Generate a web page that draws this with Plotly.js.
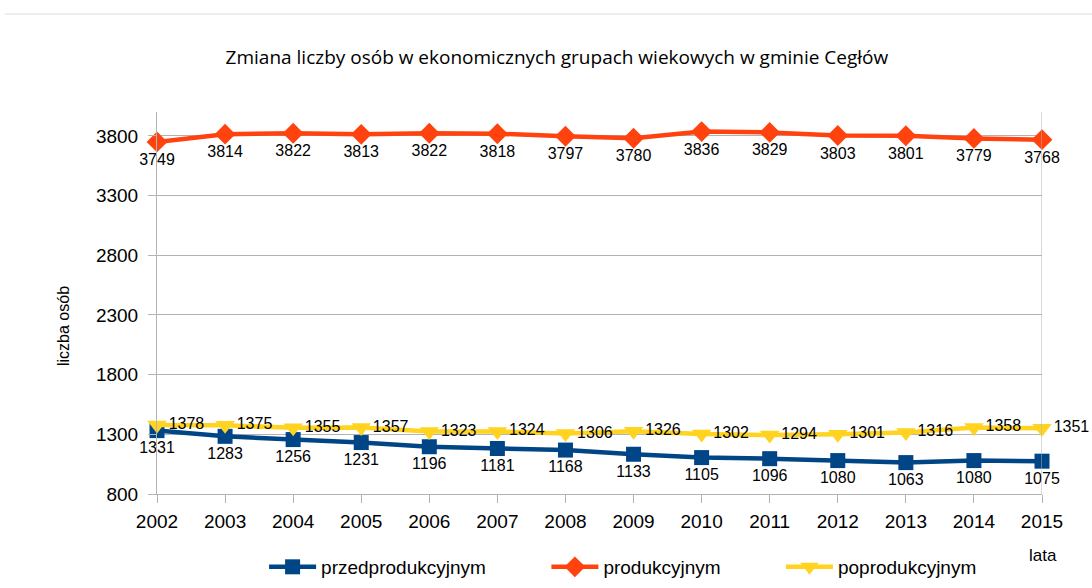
<!DOCTYPE html>
<html><head><meta charset="utf-8">
<script src="https://cdn.plot.ly/plotly-3.0.1.min.js"></script>
<style>html,body{margin:0;padding:0;background:#fff}#c{width:1092px;height:588px}</style>
</head><body><div id="c"></div>
<script>
const years = ['2002','2003','2004','2005','2006','2007','2008','2009','2010','2011','2012','2013','2014','2015'];
const przed = [1331,1283,1256,1231,1196,1181,1168,1133,1105,1096,1080,1063,1080,1075];
const prod = [3749,3814,3822,3813,3822,3818,3797,3780,3836,3829,3803,3801,3779,3768];
const popr = [1378,1375,1355,1357,1323,1324,1306,1326,1302,1294,1301,1316,1358,1351];
const names = ['przedprodukcyjnym','produkcyjnym','poprodukcyjnym'];
const yTicks = [800,1300,1800,2300,2800,3300,3800];

const F = 'Liberation Sans, Arial, sans-serif';
const tf = {family:F, size:16, color:'#000'};
const traces = [
  {x:years, y:przed, name:names[0], legend:'legend', mode:'lines+markers+text', text:przed.map(String), textposition:'bottom center', textfont:tf,
   line:{color:'#004586', width:4.5}, marker:{symbol:'square', size:15, color:'#004586'}},
  {x:years, y:prod, name:names[1], legend:'legend2', mode:'lines+markers+text', text:prod.map(String), textposition:'bottom center', textfont:tf,
   line:{color:'#ff420e', width:4.5}, marker:{symbol:'diamond', size:16, color:'#ff420e'}},
  {x:years, y:popr, name:names[2], legend:'legend3', mode:'lines+markers+text', text:popr.map(String), textposition:'middle right', textfont:tf,
   line:{color:'#ffd320', width:4.5}, marker:{symbol:'triangle-down', size:17, color:'#ffd320'}}
];
traces.forEach(t=>t.cliponaxis=false);
const lg = (x)=>({orientation:'h', x:x, xanchor:'left', y:-0.191, yanchor:'middle', bgcolor:'rgba(0,0,0,0)',
  font:{family:F, size:19, color:'#000'}, itemwidth:47});
const layout = {
  width:1092, height:588,
  margin:{l:157, r:50, t:112, b:94, autoexpand:false},
  paper_bgcolor:'#fff', plot_bgcolor:'#fff',
  showlegend:true,
  title:{text:'Zmiana liczby osób w ekonomicznych grupach wiekowych w gminie Cegłów', x:0.51, xanchor:'center', y:0.903, yanchor:'middle',
         font:{family:'Open Sans, sans-serif', size:19, color:'#000'}},
  xaxis:{type:'category', range:[0,13], showgrid:false, showline:true, linecolor:'#b3b3b3', zeroline:false,
         tickfont:{family:F, size:19, color:'#000'}, ticks:'outside', ticklen:8, tickcolor:'#b3b3b3', ticklabelstandoff:2},
  yaxis:{range:[800,4000], tickvals:yTicks, ticktext:yTicks.map(String), showgrid:true, gridcolor:'#b3b3b3', zeroline:false,
         showline:true, linecolor:'#b3b3b3', ticks:'outside', ticklen:8, tickcolor:'#b3b3b3', ticklabelstandoff:6,
         tickfont:{family:F, size:19, color:'#000'}},
  legend:lg(0.121), legend2:lg(0.44), legend3:lg(0.705),
  shapes:[
    {type:'line', xref:'x', yref:'paper', x0:13, x1:13, y0:0, y1:1.0, line:{color:'#b3b3b3', width:1}},
    {type:'line', xref:'paper', yref:'paper', x0:-0.172, x1:1.06, y0:1.2565, y1:1.2565, line:{color:'#dcdcdc', width:1}}
  ],
  annotations:[
    {text:'lata', xref:'paper', yref:'paper', x:1.001, y:-0.162, xanchor:'center', yanchor:'middle', showarrow:false,
     font:{family:F, size:17, color:'#000'}},
    {text:'liczba osób', xref:'paper', yref:'paper', x:(63-157)/885, y:(494-326)/382, xanchor:'center', yanchor:'middle', textangle:-90, showarrow:false,
     font:{family:F, size:16, color:'#000'}}
  ]
};
Plotly.newPlot('c', traces, layout, {displayModeBar:false, staticPlot:true});
</script></body></html>
